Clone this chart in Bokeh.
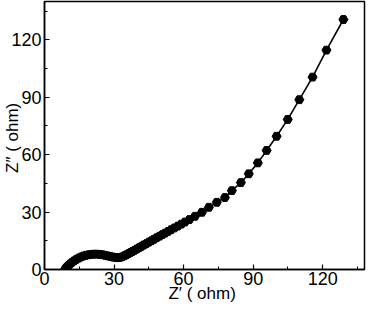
from bokeh.plotting import figure
from bokeh.models import Range1d, SingleIntervalTicker
from bokeh.embed import file_html
from bokeh.resources import INLINE

# Nyquist data (Z' , Z'') in ohm
z_real = [9.0, 9.6, 10.3, 11.0, 11.8, 12.7, 13.6, 14.6, 15.6, 16.7, 17.8, 19.0, 20.2,
          21.4, 22.6, 23.8, 25.0, 26.2, 27.3, 28.4, 29.5, 30.5, 31.5, 32.5, 33.4, 34.3,
          35.2, 36.1, 37.0, 37.9, 38.8, 39.8, 40.8, 41.8, 42.8, 43.9, 45.0, 46.1, 47.2,
          48.4, 49.6, 50.8, 52.0, 53.3, 54.6, 56.0, 57.5, 59.0, 60.6, 62.5, 64.9, 67.9,
          70.9, 74.3, 77.8, 80.8, 84.7, 88.1, 92.0, 95.8, 100.1, 104.9, 109.9, 115.6,
          121.6, 128.9]
z_imag = [0.5, 1.3, 2.1, 2.9, 3.7, 4.5, 5.2, 5.9, 6.5, 7.0, 7.4, 7.7, 7.9,
          8.0, 8.0, 7.9, 7.7, 7.4, 7.1, 6.8, 6.5, 6.3, 6.2, 6.3, 6.6, 7.1,
          7.6, 8.2, 8.8, 9.4, 10.0, 10.7, 11.4, 12.1, 12.8, 13.5, 14.3, 15.0, 15.8,
          16.6, 17.4, 18.2, 19.0, 19.9, 20.8, 21.7, 22.7, 23.7, 24.8, 26.1, 27.8, 29.9,
          32.5, 35.1, 37.6, 41.2, 45.4, 50.0, 55.7, 62.2, 69.6, 78.4, 88.7, 100.5,
          114.6, 130.6]

x_label = "Z′  ( ohm)"
y_label = "Z″  ( ohm)"

p = figure(frame_width=320, frame_height=268, output_backend="svg", toolbar_location=None,
           x_range=Range1d(0, 138), y_range=Range1d(0, 140),
           min_border_left=39, min_border_right=2, min_border_top=1, min_border_bottom=34)

p.line(z_real, z_imag, line_color="black", line_width=1.6)
p.scatter(z_real, z_imag, marker="hex", size=9, fill_color="black", line_color="black")

p.xgrid.visible = False
p.ygrid.visible = False
p.outline_line_color = "black"
p.outline_line_width = 1.5
p.outline_line_alpha = 1.0
p.background_fill_color = "white"
p.border_fill_color = "white"

p.xaxis.ticker = SingleIntervalTicker(interval=30, num_minor_ticks=2)
p.yaxis.ticker = SingleIntervalTicker(interval=30, num_minor_ticks=2)

for ax in (p.xaxis[0], p.yaxis[0]):
    ax.axis_line_color = "black"
    ax.axis_line_width = 1.5
    ax.major_tick_in = 5
    ax.major_tick_out = 0
    ax.minor_tick_in = 3
    ax.minor_tick_out = 0
    ax.major_tick_line_color = "black"
    ax.minor_tick_line_color = "black"
    ax.major_tick_line_width = 1.2
    ax.major_label_text_font = "Liberation Sans"
    ax.major_label_text_font_size = "18px"
    ax.major_label_text_color = "black"
    ax.axis_label_text_font = "Liberation Sans"
    ax.axis_label_text_font_size = "17px"
    ax.axis_label_text_font_style = "normal"
    ax.axis_label_text_color = "black"

p.xaxis.axis_label = x_label
p.yaxis.axis_label = y_label
p.xaxis.major_label_standoff = 2
p.yaxis.major_label_standoff = 3
p.xaxis.axis_label_standoff = -4
p.yaxis.axis_label_standoff = -14

open("out.html", "w").write(file_html(p, INLINE))
